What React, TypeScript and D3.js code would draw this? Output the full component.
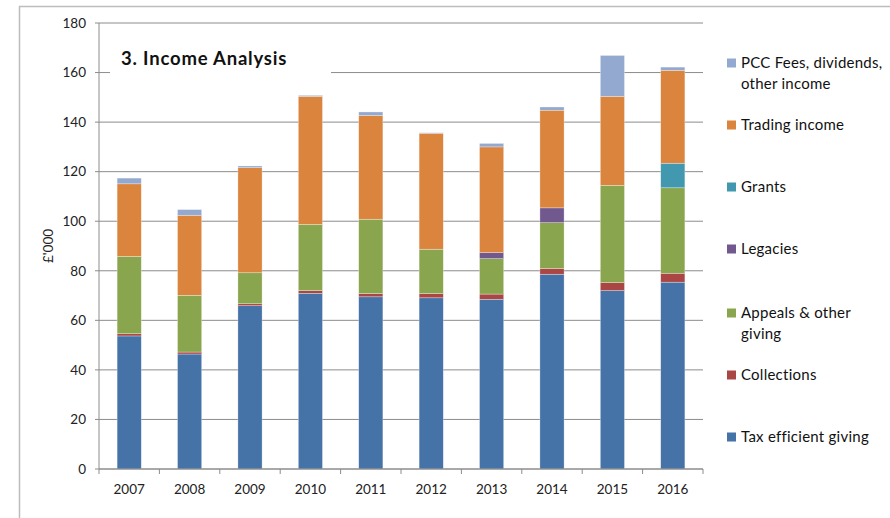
import React from 'react'
import * as d3 from 'd3'

// Income analysis, £'000 by year
const years = ['2007', '2008', '2009', '2010', '2011', '2012', '2013', '2014', '2015', '2016']
const taxEfficient = [53.7, 46.4, 65.9, 70.9, 69.5, 69.1, 68.5, 78.6, 72.0, 75.4]
const collections = [0.9, 0.8, 0.8, 1.1, 1.3, 1.7, 2.1, 2.3, 3.2, 3.6]
const appeals = [31.2, 22.9, 12.5, 26.7, 30.0, 17.9, 14.3, 18.5, 39.3, 34.5]
const legacies = [0, 0, 0, 0, 0, 0, 2.4, 6.0, 0, 0]
const grants = [0, 0, 0, 0, 0, 0, 0, 0, 0, 9.9]
const trading = [29.3, 32.3, 42.4, 51.7, 41.9, 46.8, 42.7, 39.4, 35.9, 37.5]
const pccFees = [2.3, 2.3, 0.7, 0.4, 1.4, 0.2, 1.4, 1.3, 16.5, 1.3]
const yTicks = [0, 20, 40, 60, 80, 100, 120, 140, 160, 180]

const series = [
  { key: 'tax', label: ['Tax efficient giving'], color: '#4572A7', values: taxEfficient },
  { key: 'coll', label: ['Collections'], color: '#AA4643', values: collections },
  { key: 'appeals', label: ['Appeals & other', 'giving'], color: '#89A54E', values: appeals },
  { key: 'leg', label: ['Legacies'], color: '#71588F', values: legacies },
  { key: 'grants', label: ['Grants'], color: '#4198AF', values: grants },
  { key: 'trading', label: ['Trading income'], color: '#DB843D', values: trading },
  { key: 'pcc', label: ['PCC Fees, dividends,', 'other income'], color: '#93A9CF', values: pccFees },
]

const W = 890
const H = 518
const font = 'Lato, "Open Sans", sans-serif'
const gridColor = '#8c8c8c'

const App: React.FC = () => {
  const x = d3.scaleBand<string>()
    .domain(years)
    .range([99, 703])
    .paddingInner(0.6)
    .paddingOuter(0.3)

  const y = d3.scaleLinear().domain([0, 180]).range([469, 23])

  const table = years.map((yr, i) => {
    const row: Record<string, number | string> = { year: yr }
    series.forEach(s => { row[s.key] = s.values[i] })
    return row
  })
  const stacked = d3.stack<Record<string, number | string>>()
    .keys(series.map(s => s.key))
    .value((d, k) => d[k] as number)(table)

  const step = x.step()
  const boundaries = d3.range(years.length + 1).map(i => 99 + i * step)

  // legend rows, top to bottom
  const legendRows = [
    { s: series[6], y: 63 },
    { s: series[5], y: 125 },
    { s: series[4], y: 187 },
    { s: series[3], y: 249 },
    { s: series[2], y: 313 },
    { s: series[1], y: 375 },
    { s: series[0], y: 437 },
  ]

  return (
    <svg width={W} height={H} style={{ position: 'absolute', left: 0, top: 0, background: '#fff' }} fontFamily={font}>
      {/* outer frame */}
      <path d={`M19.5,${H} V6.5 H${W}`} fill="none" stroke="#bdbdbd" strokeWidth={1.5} />

      {/* gridlines */}
      {yTicks.map(t => (
        <g key={t}>
          <line x1={95} x2={703} y1={y(t)} y2={y(t)} stroke={gridColor} strokeWidth={1} />
          <text x={86} y={y(t)} dy="0.35em" textAnchor="end" fontSize={13.5} fill="#222">{t}</text>
        </g>
      ))}

      {/* title with white backing over gridline */}
      <rect x={110} y={42} width={221} height={42} fill="#fff" />
      <text x={121} y={65} fontSize={18.5} fontWeight="bold" letterSpacing={0.8} fill="#111">3. Income Analysis</text>

      {/* bars */}
      {stacked.map((layer, li) => (
        <g key={layer.key} fill={series[li].color}>
          {layer.map((d, i) => {
            const h = y(d[0]) - y(d[1])
            if (h <= 0) return null
            return (
              <rect key={i} x={x(years[i])} y={y(d[1])} width={x.bandwidth()} height={h}
                stroke="#fff" strokeOpacity={0.5} strokeWidth={0.6} />
            )
          })}
        </g>
      ))}

      {/* axes */}
      <line x1={99} x2={99} y1={23} y2={469} stroke={gridColor} strokeWidth={1} />
      <line x1={99} x2={703} y1={469} y2={469} stroke={gridColor} strokeWidth={1} />
      {boundaries.map((b, i) => (
        <line key={i} x1={b} x2={b} y1={469} y2={474} stroke={gridColor} strokeWidth={1} />
      ))}
      {years.map(yr => (
        <text key={yr} x={(x(yr) || 0) + x.bandwidth() / 2} y={494} textAnchor="middle" fontSize={13.5} fill="#222">{yr}</text>
      ))}

      <text transform="translate(53,246) rotate(-90)" textAnchor="middle" fontSize={13.5} fill="#222">£'000</text>

      {/* legend */}
      {legendRows.map(({ s, y: ly }) => (
        <g key={s.key}>
          <rect x={727} y={ly - 4.5} width={9} height={9} fill={s.color} />
          {s.label.map((line, j) => (
            <text key={j} x={741} y={ly + j * 20.5} dy="0.35em" fontSize={15} letterSpacing={0.25} fill="#111">{line}</text>
          ))}
        </g>
      ))}
    </svg>
  )
}

export default App
